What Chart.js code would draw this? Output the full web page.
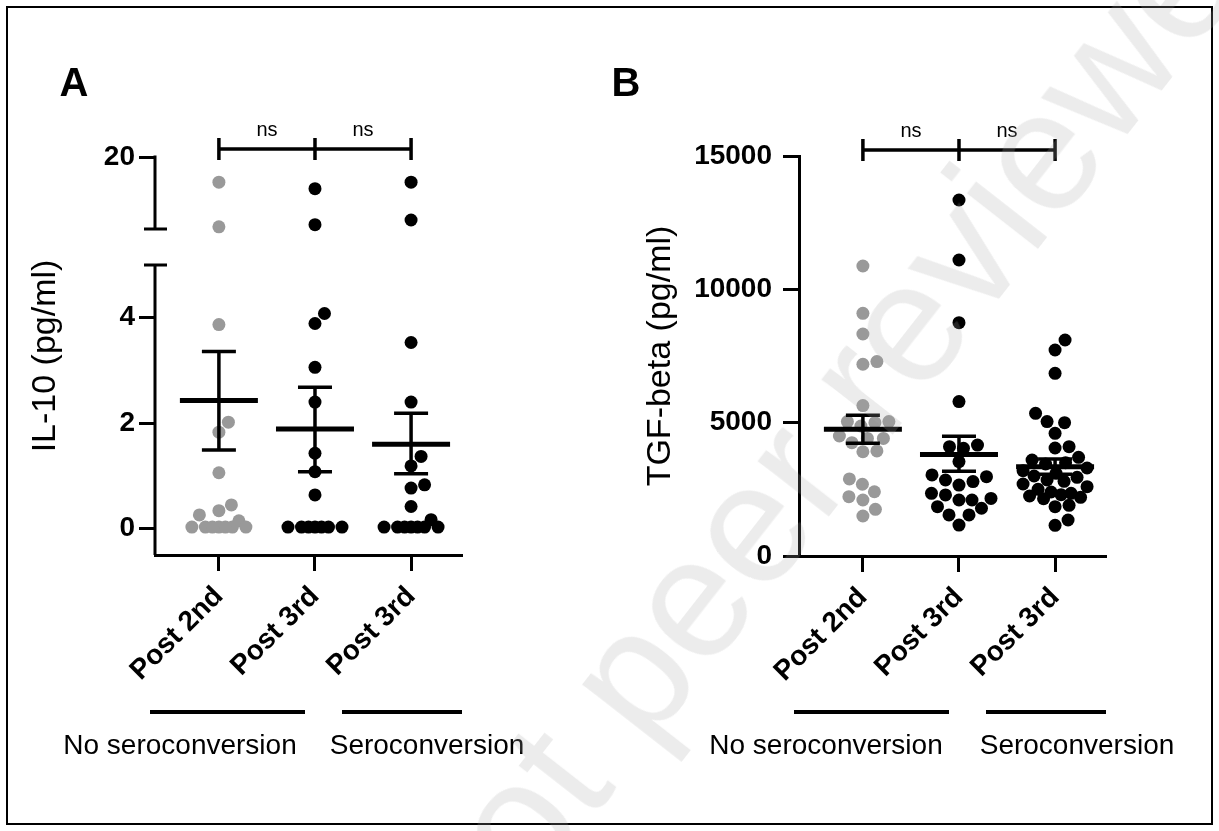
<!DOCTYPE html>
<html>
<head>
<meta charset="utf-8">
<script src="https://cdn.jsdelivr.net/npm/chart.js@4.4.1/dist/chart.umd.min.js"></script>
<style>
    body { margin: 0; background: #fff; }
    #fig { position: relative; width: 1219px; height: 831px; overflow: hidden; background: #fff; }
    #frame { position: absolute; left: 6px; top: 6px; width: 1203px; height: 815px; border: 2px solid #000; }
    canvas { position: absolute; top: 0; }
    #chartA { left: 0; }
    #chartB { left: 600px; }
    #wm {
        position: absolute; left: 455px; top: 851px;
        font: 170px "Liberation Sans", Arial, sans-serif; line-height: 170px;
        white-space: nowrap; color: rgba(170, 170, 170, 0.22);
        transform-origin: 0 144px; transform: rotate(-52deg);
        pointer-events: none;
    }
</style>
</head>
<body>
<div id="fig">
    <div id="frame"></div>
    <canvas id="chartA" width="600" height="831"></canvas>
    <canvas id="chartB" width="619" height="831"></canvas>
    <div id="wm">Not peer reviewed</div>
</div>
<script>
var FONT = '"Liberation Sans", Arial, Helvetica, sans-serif';

// x categories and groups
var categories = ['Post 2nd', 'Post 3rd', 'Post 3rd'];
var groupNames = ['No seroconversion', 'Seroconversion'];
var sigLabels = ['ns', 'ns'];
var pointColors = ['#999999', '#000000', '#000000'];

// A: IL-10 (pg/ml), axis broken between 5 and 10
var il10NoSeroPost2nd = [16.5, 10.3, 3.87, 2.02, 1.83, 1.06, 0.45, 0.34, 0.26, 0.15, 0.03, 0.03, 0.03, 0.03, 0.03, 0.03, 0.03];
var il10NoSeroPost3rd = [15.6, 10.6, 4.08, 3.89, 3.06, 2.40, 1.43, 1.08, 0.64, 0.03, 0.03, 0.03, 0.03, 0.03, 0.03, 0.03];
var il10SeroPost3rd = [16.5, 11.25, 3.53, 2.40, 1.37, 1.19, 0.83, 0.77, 0.42, 0.17, 0.03, 0.03, 0.03, 0.03, 0.03, 0.03, 0.03];
var il10Mean = [2.43, 1.89, 1.60];
var il10SemLow = [1.49, 1.08, 1.04];
var il10SemHigh = [3.36, 2.68, 2.19];
var il10Ticks = [0, 2, 4, 20];

// B: TGF-beta (pg/ml)
var tgfNoSeroPost2nd = [10875, 9100, 8325, 7290, 7190, 5640, 5040, 5040, 5000, 4875, 4500, 4410, 4410, 4250, 3940, 3910, 2890, 2690, 2410, 2225, 2100, 1750, 1500];
var tgfNoSeroPost3rd = [13350, 11100, 8750, 5790, 4160, 4100, 4040, 3540, 3040, 2975, 2850, 2790, 2660, 2350, 2290, 2160, 2100, 2100, 1850, 1790, 1540, 1540, 1160];
var tgfSeroPost3rd = [8100, 7725, 6850, 5350, 5040, 5000, 4600, 4100, 4050, 3700, 3600, 3500, 3450, 3300, 3200, 3100, 3000, 2950, 2850, 2800, 2700, 2600, 2500, 2400, 2350, 2300, 2250, 2200, 2150, 1900, 1850, 1350, 1150];
var tgfMean = [4750, 3810, 3350];
var tgfSemLow = [4225, 3180, 3070];
var tgfSemHigh = [5275, 4490, 3640];
var tgfTicks = [0, 5000, 10000, 15000];

// broken axis: lower part up to 5, upper part from 10
var LOW_MAX = 5, HIGH_MIN = 10, HIGH_FRAC = 72 / 398, GAP_FRAC = 36 / 398;

class BrokenLinearScale extends Chart.LinearScale {
    static id = 'brokenLinear';
    static defaults = Chart.LinearScale.defaults;

    getPixelForValue(value) {
        var h = this.bottom - this.top;
        var hiH = h * HIGH_FRAC;
        var loTop = this.top + hiH + h * GAP_FRAC;
        if (value >= HIGH_MIN) {
            return this.top + (this.max - value) / (this.max - HIGH_MIN) * hiH;
        }
        return this.bottom - (value - this.min) / (LOW_MAX - this.min) * (this.bottom - loTop);
    }

    getValueForPixel(pixel) {
        var h = this.bottom - this.top;
        var hiH = h * HIGH_FRAC;
        var loTop = this.top + hiH + h * GAP_FRAC;
        if (pixel <= this.top + hiH) {
            return this.max - (pixel - this.top) / hiH * (this.max - HIGH_MIN);
        }
        return this.min + (this.bottom - pixel) / (this.bottom - loTop) * (LOW_MAX - this.min);
    }
}
Chart.register(BrokenLinearScale);

// spread points sideways so they don't sit on top of each other
function swarmOffsets(pys, d, maxHalf) {
    var idx = pys.map(function (y, i) { return i; });
    idx.sort(function (a, b) { return pys[b] - pys[a]; });
    var placed = [], out = [];
    idx.forEach(function (i) {
        var y = pys[i], pick = null, fallback = 0, fallbackDist = -1;
        for (var s = 0; s <= maxHalf && pick === null; s += 0.5) {
            var cands = s === 0 ? [0] : [s, -s];
            for (var c = 0; c < cands.length; c++) {
                var minD = Infinity;
                for (var k = 0; k < placed.length; k++) {
                    var dd = Math.hypot(placed[k].x - cands[c], placed[k].y - y);
                    if (dd < minD) minD = dd;
                }
                if (minD >= d) { pick = cands[c]; break; }
                if (minD > fallbackDist) { fallbackDist = minD; fallback = cands[c]; }
            }
        }
        if (pick === null) pick = fallback;
        placed.push({ x: pick, y: y });
        out[i] = pick;
    });
    return out;
}

function spreadPoints(chart, d, maxHalf) {
    var xs = chart.scales.x, ys = chart.scales.y;
    var unit = xs.getPixelForValue(2) - xs.getPixelForValue(1);
    chart.data.datasets.forEach(function (ds) {
        if (!ds.values) return;
        var pys = ds.values.map(function (v) { return ys.getPixelForValue(v); });
        var offs = swarmOffsets(pys, d, maxHalf);
        ds.data = ds.values.map(function (v, i) { return { x: ds.group + offs[i] / unit, y: v }; });
    });
    chart.update('none');
}

function decorPlugin(cfg) {
    return {
        id: 'decor',
        afterDraw: function (chart) {
            var ctx = chart.ctx, a = chart.chartArea, xs = chart.scales.x, ys = chart.scales.y;
            ctx.save();
            ctx.fillStyle = '#000';
            ctx.strokeStyle = '#000';

            // panel letter
            ctx.font = 'bold 40px ' + FONT;
            ctx.textAlign = 'center';
            ctx.textBaseline = 'alphabetic';
            ctx.fillText(cfg.letter, cfg.letterX, 96);

            // ns brackets
            var by = a.top + cfg.bracketDy;
            ctx.lineWidth = 3.5;
            ctx.beginPath();
            ctx.moveTo(xs.getPixelForValue(1), by);
            ctx.lineTo(xs.getPixelForValue(3), by);
            [1, 2, 3].forEach(function (v) {
                var px = xs.getPixelForValue(v);
                ctx.moveTo(px, by - 11);
                ctx.lineTo(px, by + 11);
            });
            ctx.stroke();
            ctx.font = '20px ' + FONT;
            sigLabels.forEach(function (t, i) {
                var mx = (xs.getPixelForValue(i + 1) + xs.getPixelForValue(i + 2)) / 2;
                ctx.fillText(t, mx, by - 13);
            });

            // group underlines and names
            ctx.lineWidth = 4;
            ctx.beginPath();
            cfg.groupLines.forEach(function (g) {
                ctx.moveTo(a.left + g[0], 712);
                ctx.lineTo(a.left + g[1], 712);
            });
            ctx.stroke();
            ctx.font = '28px ' + FONT;
            groupNames.forEach(function (t, i) {
                ctx.fillText(t, a.left + cfg.groupText[i], 754);
            });

            // broken y axis
            if (cfg.broken) {
                var h = ys.bottom - ys.top;
                var b1 = ys.top + h * HIGH_FRAC, b2 = b1 + h * GAP_FRAC;
                var x0 = a.left;
                ctx.lineWidth = 3;
                ctx.beginPath();
                ctx.moveTo(x0, ys.top - 1.5);
                ctx.lineTo(x0, b1);
                ctx.moveTo(x0 - 11, b1);
                ctx.lineTo(x0 + 12, b1);
                ctx.moveTo(x0 - 11, b2);
                ctx.lineTo(x0 + 12, b2);
                ctx.moveTo(x0, b2);
                ctx.lineTo(x0, ys.bottom);
                ctx.stroke();
            }
            ctx.restore();
        }
    };
}

function makePanel(id, p) {
    var datasets = [];
    p.series.forEach(function (vals, i) {
        datasets.push({
            values: vals, group: i + 1,
            data: vals.map(function (v) { return { x: i + 1, y: v }; }),
            pointRadius: 6.5, pointBackgroundColor: pointColors[i], backgroundColor: pointColors[i],
            pointBorderWidth: 0, borderWidth: 0, order: 2
        });
        datasets.push({
            data: [{ x: i + 1, y: p.semLow[i] }, { x: i + 1, y: p.semHigh[i] }],
            showLine: true, borderColor: '#000', borderWidth: 3.5,
            pointStyle: 'line', pointRadius: 17, pointBorderWidth: 3.5, pointBorderColor: '#000',
            order: 1
        });
        datasets.push({
            data: [{ x: i + 1, y: p.mean[i] }],
            pointStyle: 'line', pointRadius: 39, pointBorderWidth: 5, pointBorderColor: '#000',
            borderColor: '#000', order: 0
        });
    });

    var tickFont = { family: FONT, size: 28, weight: 'bold' };
    var chart = new Chart(document.getElementById(id), {
        type: 'scatter',
        data: { datasets: datasets },
        options: {
            responsive: false,
            animation: false,
            events: [],
            layout: { padding: { left: 0, top: p.top, right: p.right, bottom: 0 } },
            plugins: { legend: { display: false }, tooltip: { enabled: false } },
            scales: {
                x: {
                    type: 'linear', min: 0.335, max: 3.53,
                    afterBuildTicks: function (s) { s.ticks = [1, 2, 3].map(function (v) { return { value: v }; }); },
                    afterFit: function (s) { s.height = p.xHeight; },
                    border: { display: true, color: '#000', width: 3 },
                    grid: { drawOnChartArea: false, drawTicks: true, tickLength: 16, tickWidth: 3, tickColor: '#000', color: '#000' },
                    ticks: {
                        autoSkip: false, minRotation: 45, maxRotation: 45, padding: 9, color: '#000', font: tickFont,
                        callback: function (v, i) { return categories[i]; }
                    }
                },
                y: {
                    type: p.yType, min: p.yMin, max: p.yMax,
                    afterBuildTicks: function (s) { s.ticks = p.ticks.map(function (v) { return { value: v }; }); },
                    afterFit: function (s) { s.width = p.yWidth; },
                    border: { display: !p.broken, color: '#000', width: 3 },
                    grid: { drawOnChartArea: false, drawTicks: true, tickLength: 16, tickWidth: 3, tickColor: '#000', color: '#000' },
                    ticks: {
                        autoSkip: false, padding: p.tickPad, color: '#000', font: tickFont,
                        callback: function (v) { return String(v); }
                    },
                    title: {
                        display: true, text: p.title, color: '#000',
                        font: { family: FONT, size: 34 }, padding: { top: p.titlePad, bottom: 0 }
                    }
                }
            }
        },
        plugins: [decorPlugin(p.decor)]
    });
    spreadPoints(chart, p.swarmD, p.swarmHalf);
    return chart;
}

makePanel('chartA', {
    series: [il10NoSeroPost2nd, il10NoSeroPost3rd, il10SeroPost3rd],
    mean: il10Mean, semLow: il10SemLow, semHigh: il10SemHigh, ticks: il10Ticks,
    yType: 'brokenLinear', yMin: -0.5, yMax: 20, broken: true,
    title: 'IL-10 (pg/ml)', titlePad: 25, tickPad: 4,
    top: 157, right: 138, yWidth: 155, xHeight: 276,
    swarmD: 13.5, swarmHalf: 27,
    decor: { letter: 'A', letterX: 74, bracketDy: -8, broken: true,
             groupLines: [[-5, 150], [187, 307]], groupText: [25, 272] }
});

makePanel('chartB', {
    series: [tgfNoSeroPost2nd, tgfNoSeroPost3rd, tgfSeroPost3rd],
    mean: tgfMean, semLow: tgfSemLow, semHigh: tgfSemHigh, ticks: tgfTicks,
    yType: 'linear', yMin: 0, yMax: 15000, broken: false,
    title: 'TGF-beta (pg/ml)', titlePad: 40, tickPad: 11,
    top: 156, right: 113, yWidth: 199, xHeight: 275,
    swarmD: 14, swarmHalf: 32,
    decor: { letter: 'B', letterX: 26, bracketDy: -6, broken: false,
             groupLines: [[-5, 150], [187, 307]], groupText: [27, 278] }
});
</script>
</body>
</html>
